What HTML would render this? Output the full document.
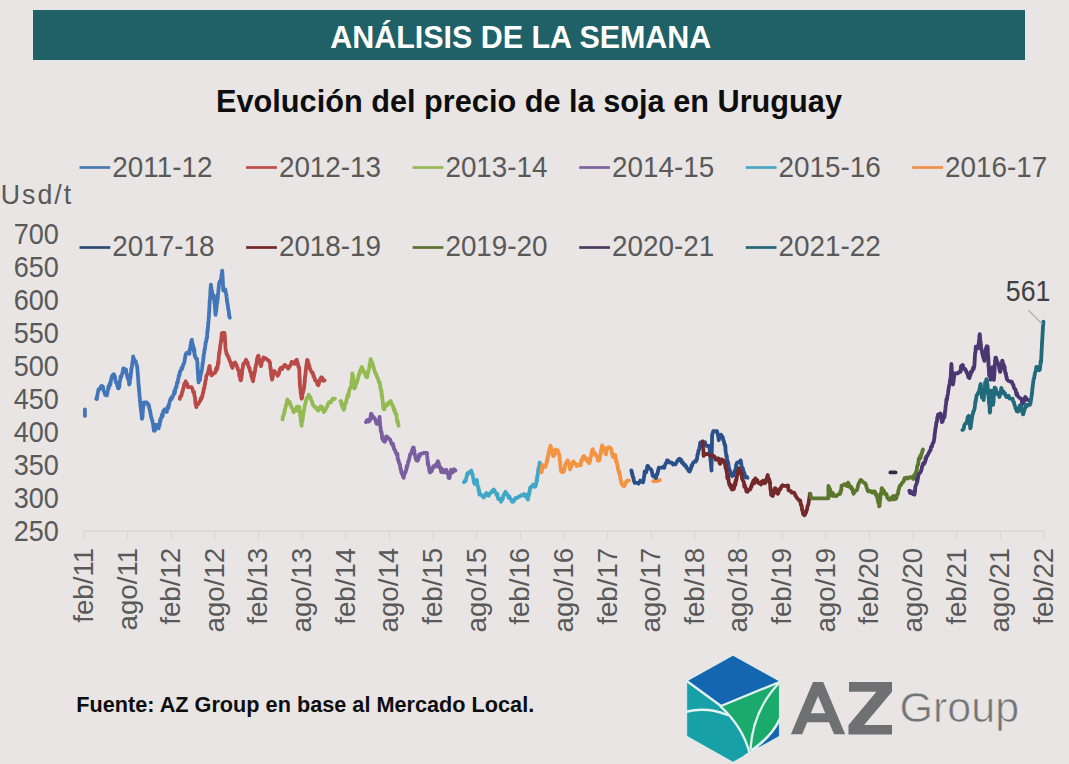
<!DOCTYPE html>
<html><head><meta charset="utf-8"><style>
html,body{margin:0;padding:0;background:#e8e5e4;}
body{width:1069px;height:764px;overflow:hidden;position:relative;font-family:"Liberation Sans",sans-serif;}
svg{position:absolute;left:0;top:0;}
.ax{font-family:"Liberation Sans",sans-serif;font-size:26.7px;fill:#595959;}
</style></head><body>
<svg width="1069" height="764" viewBox="0 0 1069 764">
<rect x="0" y="0" width="1069" height="764" fill="#e8e5e4"/>
<rect x="33" y="10" width="992" height="50" fill="#1f6166"/>
<text transform="translate(520.8,47.5) scale(1,1.11)" text-anchor="middle" font-family="Liberation Sans" font-weight="bold" font-size="28.5" fill="#ffffff" textLength="381" lengthAdjust="spacingAndGlyphs">ANÁLISIS DE LA SEMANA</text>
<text transform="translate(216,111.9) scale(1,1.12)" font-family="Liberation Sans" font-weight="bold" font-size="28.5" fill="#0d0d0d" textLength="626" lengthAdjust="spacingAndGlyphs">Evolución del precio de la soja en Uruguay</text>
<text transform="translate(0.8,203.9) scale(1,1.065)" class="ax" style="letter-spacing:2px">Usd/t</text>
<text transform="translate(58.9,244.0) scale(1,1.083)" text-anchor="end" class="ax" style="font-size:27.1px">700</text><text transform="translate(58.9,277.0) scale(1,1.083)" text-anchor="end" class="ax" style="font-size:27.1px">650</text><text transform="translate(58.9,310.0) scale(1,1.083)" text-anchor="end" class="ax" style="font-size:27.1px">600</text><text transform="translate(58.9,343.0) scale(1,1.083)" text-anchor="end" class="ax" style="font-size:27.1px">550</text><text transform="translate(58.9,376.0) scale(1,1.083)" text-anchor="end" class="ax" style="font-size:27.1px">500</text><text transform="translate(58.9,409.0) scale(1,1.083)" text-anchor="end" class="ax" style="font-size:27.1px">450</text><text transform="translate(58.9,442.0) scale(1,1.083)" text-anchor="end" class="ax" style="font-size:27.1px">400</text><text transform="translate(58.9,475.0) scale(1,1.083)" text-anchor="end" class="ax" style="font-size:27.1px">350</text><text transform="translate(58.9,508.0) scale(1,1.083)" text-anchor="end" class="ax" style="font-size:27.1px">300</text><text transform="translate(58.9,541.0) scale(1,1.083)" text-anchor="end" class="ax" style="font-size:27.1px">250</text>
<line x1="79.5" y1="167.5" x2="110.3" y2="167.5" stroke="#4a7ab2" stroke-width="2.7"/><text transform="translate(112.3,177.0) scale(1,1.064)" class="ax" style="font-size:27.85px">2011-12</text><line x1="246.1" y1="167.5" x2="276.9" y2="167.5" stroke="#bd4d4a" stroke-width="2.7"/><text transform="translate(278.9,177.0) scale(1,1.064)" class="ax" style="font-size:27.85px">2012-13</text><line x1="412.6" y1="167.5" x2="443.4" y2="167.5" stroke="#97b956" stroke-width="2.7"/><text transform="translate(445.4,177.0) scale(1,1.064)" class="ax" style="font-size:27.85px">2013-14</text><line x1="579.2" y1="167.5" x2="610.0" y2="167.5" stroke="#7b619f" stroke-width="2.7"/><text transform="translate(612.0,177.0) scale(1,1.064)" class="ax" style="font-size:27.85px">2014-15</text><line x1="745.7" y1="167.5" x2="776.5" y2="167.5" stroke="#48a8c2" stroke-width="2.7"/><text transform="translate(778.5,177.0) scale(1,1.064)" class="ax" style="font-size:27.85px">2015-16</text><line x1="912.2" y1="167.5" x2="943.0" y2="167.5" stroke="#ef9048" stroke-width="2.7"/><text transform="translate(945.0,177.0) scale(1,1.064)" class="ax" style="font-size:27.85px">2016-17</text><line x1="79.5" y1="247.5" x2="110.3" y2="247.5" stroke="#2c4b73" stroke-width="2.7"/><text transform="translate(112.3,255.8) scale(1,1.064)" class="ax" style="font-size:27.85px">2017-18</text><line x1="246.1" y1="247.5" x2="276.9" y2="247.5" stroke="#712a29" stroke-width="2.7"/><text transform="translate(278.9,255.8) scale(1,1.064)" class="ax" style="font-size:27.85px">2018-19</text><line x1="412.6" y1="247.5" x2="443.4" y2="247.5" stroke="#5b712f" stroke-width="2.7"/><text transform="translate(445.4,255.8) scale(1,1.064)" class="ax" style="font-size:27.85px">2019-20</text><line x1="579.2" y1="247.5" x2="610.0" y2="247.5" stroke="#4a3a5e" stroke-width="2.7"/><text transform="translate(612.0,255.8) scale(1,1.064)" class="ax" style="font-size:27.85px">2020-21</text><line x1="745.7" y1="247.5" x2="776.5" y2="247.5" stroke="#256677" stroke-width="2.7"/><text transform="translate(778.5,255.8) scale(1,1.064)" class="ax" style="font-size:27.85px">2021-22</text>
<line x1="84" y1="531" x2="1044" y2="531" stroke="#d9d9d9" stroke-width="1.3"/><line x1="84.0" y1="531" x2="84.0" y2="539" stroke="#d9d9d9" stroke-width="1.3"/><text x="0" y="0" transform="translate(92.9,547.8) rotate(-90)" text-anchor="end" class="ax" style="font-size:27.7px">feb/11</text><line x1="127.6" y1="531" x2="127.6" y2="539" stroke="#d9d9d9" stroke-width="1.3"/><text x="0" y="0" transform="translate(136.5,547.8) rotate(-90)" text-anchor="end" class="ax" style="font-size:27.7px">ago/11</text><line x1="171.3" y1="531" x2="171.3" y2="539" stroke="#d9d9d9" stroke-width="1.3"/><text x="0" y="0" transform="translate(180.2,547.8) rotate(-90)" text-anchor="end" class="ax" style="font-size:27.7px">feb/12</text><line x1="214.9" y1="531" x2="214.9" y2="539" stroke="#d9d9d9" stroke-width="1.3"/><text x="0" y="0" transform="translate(223.8,547.8) rotate(-90)" text-anchor="end" class="ax" style="font-size:27.7px">ago/12</text><line x1="258.5" y1="531" x2="258.5" y2="539" stroke="#d9d9d9" stroke-width="1.3"/><text x="0" y="0" transform="translate(267.4,547.8) rotate(-90)" text-anchor="end" class="ax" style="font-size:27.7px">feb/13</text><line x1="302.2" y1="531" x2="302.2" y2="539" stroke="#d9d9d9" stroke-width="1.3"/><text x="0" y="0" transform="translate(311.1,547.8) rotate(-90)" text-anchor="end" class="ax" style="font-size:27.7px">ago/13</text><line x1="345.8" y1="531" x2="345.8" y2="539" stroke="#d9d9d9" stroke-width="1.3"/><text x="0" y="0" transform="translate(354.7,547.8) rotate(-90)" text-anchor="end" class="ax" style="font-size:27.7px">feb/14</text><line x1="389.5" y1="531" x2="389.5" y2="539" stroke="#d9d9d9" stroke-width="1.3"/><text x="0" y="0" transform="translate(398.4,547.8) rotate(-90)" text-anchor="end" class="ax" style="font-size:27.7px">ago/14</text><line x1="433.1" y1="531" x2="433.1" y2="539" stroke="#d9d9d9" stroke-width="1.3"/><text x="0" y="0" transform="translate(442.0,547.8) rotate(-90)" text-anchor="end" class="ax" style="font-size:27.7px">feb/15</text><line x1="476.7" y1="531" x2="476.7" y2="539" stroke="#d9d9d9" stroke-width="1.3"/><text x="0" y="0" transform="translate(485.6,547.8) rotate(-90)" text-anchor="end" class="ax" style="font-size:27.7px">ago/15</text><line x1="520.4" y1="531" x2="520.4" y2="539" stroke="#d9d9d9" stroke-width="1.3"/><text x="0" y="0" transform="translate(529.3,547.8) rotate(-90)" text-anchor="end" class="ax" style="font-size:27.7px">feb/16</text><line x1="564.0" y1="531" x2="564.0" y2="539" stroke="#d9d9d9" stroke-width="1.3"/><text x="0" y="0" transform="translate(572.9,547.8) rotate(-90)" text-anchor="end" class="ax" style="font-size:27.7px">ago/16</text><line x1="607.6" y1="531" x2="607.6" y2="539" stroke="#d9d9d9" stroke-width="1.3"/><text x="0" y="0" transform="translate(616.5,547.8) rotate(-90)" text-anchor="end" class="ax" style="font-size:27.7px">feb/17</text><line x1="651.3" y1="531" x2="651.3" y2="539" stroke="#d9d9d9" stroke-width="1.3"/><text x="0" y="0" transform="translate(660.2,547.8) rotate(-90)" text-anchor="end" class="ax" style="font-size:27.7px">ago/17</text><line x1="694.9" y1="531" x2="694.9" y2="539" stroke="#d9d9d9" stroke-width="1.3"/><text x="0" y="0" transform="translate(703.8,547.8) rotate(-90)" text-anchor="end" class="ax" style="font-size:27.7px">feb/18</text><line x1="738.5" y1="531" x2="738.5" y2="539" stroke="#d9d9d9" stroke-width="1.3"/><text x="0" y="0" transform="translate(747.4,547.8) rotate(-90)" text-anchor="end" class="ax" style="font-size:27.7px">ago/18</text><line x1="782.2" y1="531" x2="782.2" y2="539" stroke="#d9d9d9" stroke-width="1.3"/><text x="0" y="0" transform="translate(791.1,547.8) rotate(-90)" text-anchor="end" class="ax" style="font-size:27.7px">feb/19</text><line x1="825.8" y1="531" x2="825.8" y2="539" stroke="#d9d9d9" stroke-width="1.3"/><text x="0" y="0" transform="translate(834.7,547.8) rotate(-90)" text-anchor="end" class="ax" style="font-size:27.7px">ago/19</text><line x1="869.5" y1="531" x2="869.5" y2="539" stroke="#d9d9d9" stroke-width="1.3"/><text x="0" y="0" transform="translate(878.4,547.8) rotate(-90)" text-anchor="end" class="ax" style="font-size:27.7px">feb/20</text><line x1="913.1" y1="531" x2="913.1" y2="539" stroke="#d9d9d9" stroke-width="1.3"/><text x="0" y="0" transform="translate(922.0,547.8) rotate(-90)" text-anchor="end" class="ax" style="font-size:27.7px">ago/20</text><line x1="956.7" y1="531" x2="956.7" y2="539" stroke="#d9d9d9" stroke-width="1.3"/><text x="0" y="0" transform="translate(965.6,547.8) rotate(-90)" text-anchor="end" class="ax" style="font-size:27.7px">feb/21</text><line x1="1000.4" y1="531" x2="1000.4" y2="539" stroke="#d9d9d9" stroke-width="1.3"/><text x="0" y="0" transform="translate(1009.3,547.8) rotate(-90)" text-anchor="end" class="ax" style="font-size:27.7px">ago/21</text><line x1="1044.0" y1="531" x2="1044.0" y2="539" stroke="#d9d9d9" stroke-width="1.3"/><text x="0" y="0" transform="translate(1052.9,547.8) rotate(-90)" text-anchor="end" class="ax" style="font-size:27.7px">feb/22</text>
<g fill="none" stroke-width="3.8" stroke-linejoin="round" stroke-linecap="round">
<polyline points="84.9,409.5 84.9,415.9" stroke="#4376b9"/>
<polyline points="96.2,398.9 96.5,398.0 96.9,399.0 97.2,396.1 97.5,394.8 97.8,392.9 98.2,391.3 98.5,389.5 99.4,389.4 100.2,387.7 101.1,386.1 102.0,386.0 102.5,386.2 103.0,387.1 103.4,389.9 103.9,391.5 104.4,391.9 105.2,395.0 106.0,394.9 106.8,395.4 107.1,394.4 107.4,393.3 107.7,391.1 108.0,389.5 108.4,386.2 108.8,388.2 109.2,385.2 109.6,384.6 109.9,382.8 110.3,385.0 110.7,381.7 111.1,379.6 111.5,377.7 112.3,375.4 113.0,376.5 113.8,374.2 114.2,374.7 114.6,378.4 115.0,376.7 115.4,379.7 115.8,382.2 116.2,382.4 116.7,382.7 117.2,385.0 117.6,386.3 118.1,388.3 118.6,388.3 118.9,386.6 119.1,386.6 119.4,386.9 119.6,381.5 119.9,380.9 120.1,381.1 120.4,378.5 120.6,376.4 120.9,376.5 121.3,376.9 121.7,375.0 122.1,373.8 122.5,372.4 122.9,370.6 123.3,368.3 124.4,368.7 125.6,370.7 126.0,369.5 126.4,374.2 126.8,373.7 127.2,376.4 127.6,378.1 128.0,378.9 128.4,378.8 128.8,381.0 129.2,384.6 129.6,383.6 129.8,383.2 129.9,379.1 130.1,379.3 130.3,378.2 130.5,377.5 130.6,376.3 130.8,373.9 131.0,372.4 131.2,372.2 131.3,368.2 131.5,368.3 131.7,368.4 132.0,366.2 132.2,363.9 132.4,362.5 132.7,362.1 132.9,358.8 133.2,356.5 133.4,357.7 134.2,359.4 134.9,361.8 135.7,361.2 136.0,362.6 136.4,364.2 136.7,365.6 137.1,365.9 137.4,368.3 137.5,370.2 137.6,372.1 137.7,372.6 137.8,374.9 137.9,374.1 138.0,376.9 138.1,377.2 138.2,378.8 138.3,381.1 138.4,382.3 138.5,384.5 138.6,384.8 138.7,387.0 138.9,386.4 139.0,390.6 139.1,388.7 139.2,391.8 139.4,393.7 139.5,394.6 139.6,396.7 139.7,397.6 139.9,397.8 140.0,401.3 140.1,401.7 140.2,402.2 140.4,404.7 140.5,406.0 140.7,407.4 140.9,409.3 141.0,409.7 141.2,411.9 141.4,413.0 141.6,416.4 141.7,415.6 141.9,418.9 142.1,418.9 142.2,417.4 142.4,417.4 142.5,417.4 142.7,413.0 142.8,412.2 142.9,409.7 143.1,408.5 143.2,407.3 143.4,406.7 143.5,406.3 143.7,404.9 143.8,402.5 146.8,402.5 147.4,403.1 148.0,405.0 148.6,404.4 149.2,407.2 149.5,409.3 149.8,409.8 150.0,410.3 150.3,413.0 150.6,413.5 151.0,416.4 151.3,417.2 151.7,419.1 152.0,419.3 152.4,421.3 152.7,422.5 152.9,423.6 153.1,423.5 153.3,426.4 153.5,427.8 153.7,428.6 153.9,430.7 154.4,430.4 154.8,430.7 155.3,428.8 155.7,426.0 156.2,424.8 157.0,424.7 157.8,427.0 158.6,428.4 158.9,426.4 159.2,425.9 159.5,425.8 159.8,423.0 160.0,420.2 160.3,422.0 160.6,419.2 160.9,417.8 161.5,417.9 162.1,414.1 162.7,416.4 163.3,410.9 163.9,411.0 164.5,409.5 165.7,411.6 166.8,411.9 167.2,407.6 167.6,408.2 168.0,406.0 168.4,408.3 168.8,405.8 169.2,403.6 169.8,401.4 170.4,399.3 171.0,398.1 171.6,399.1 172.1,396.8 172.7,397.0 173.3,394.8 173.9,394.2 174.3,391.0 174.7,393.6 175.1,390.8 175.5,388.2 175.8,387.3 176.2,387.8 176.6,385.9 177.0,382.3 177.4,382.4 177.7,382.7 178.1,379.1 178.4,379.1 178.8,375.8 179.1,375.1 179.5,375.5 179.8,372.0 180.2,372.1 180.5,370.7 181.1,370.0 181.6,367.6 182.2,368.8 182.7,366.7 183.2,364.6 183.8,363.6 184.1,363.4 184.3,362.4 184.6,361.0 184.9,358.1 185.2,357.8 185.4,356.0 185.7,354.2 186.9,352.6 188.0,353.0 189.2,353.0 189.5,353.8 189.7,349.2 190.0,349.2 190.3,349.1 190.5,345.4 190.8,344.3 191.1,342.1 191.3,342.0 191.6,340.0 191.9,339.8 192.1,342.9 192.4,342.7 192.7,344.8 193.0,346.5 193.2,345.5 193.5,347.5 193.8,351.0 194.0,352.0 194.3,349.2 194.6,355.6 194.8,354.3 195.1,356.5 196.1,358.7 197.0,358.9 197.1,361.4 197.2,361.5 197.3,362.6 197.4,362.3 197.5,366.3 197.6,369.3 197.7,367.2 197.8,371.2 197.8,372.2 197.9,373.8 198.0,372.9 198.1,375.4 198.2,377.2 198.3,380.2 198.4,378.6 198.5,380.4 198.6,382.4 199.2,380.4 199.8,380.1 200.1,379.7 200.3,375.7 200.6,375.9 200.8,373.4 201.1,373.2 201.3,373.1 201.6,370.3 201.8,370.4 202.1,368.3 202.3,366.4 202.4,365.5 202.6,364.1 202.8,361.9 203.0,362.0 203.1,361.0 203.3,358.0 203.5,358.3 203.6,356.3 203.8,354.4 204.0,353.7 204.2,353.1 204.3,351.7 204.5,349.5 204.8,349.8 205.0,347.2 205.3,345.8 205.6,342.6 205.8,342.3 206.1,342.3 206.4,339.1 206.6,338.0 206.9,337.7 207.0,338.3 207.2,334.7 207.3,332.1 207.5,329.5 207.6,329.5 207.7,331.6 207.9,327.5 208.0,326.8 208.1,325.4 208.3,322.7 208.4,322.2 208.6,320.4 208.7,318.9 208.8,317.1 208.9,317.2 209.0,313.7 209.1,312.3 209.2,311.0 209.2,311.7 209.3,308.4 209.4,309.5 209.5,304.6 209.6,303.5 209.7,300.3 209.8,300.8 209.9,300.4 210.0,299.7 210.1,296.4 210.2,295.5 210.3,296.2 210.3,292.7 210.4,291.9 210.5,291.1 210.6,287.9 210.7,288.9 210.8,285.9 210.9,284.7 211.1,287.0 211.3,287.2 211.5,289.3 211.7,291.8 211.9,292.1 212.1,291.3 212.3,294.5 212.5,295.8 212.7,297.7 213.3,296.3 213.9,295.3 214.0,296.8 214.1,296.2 214.3,301.3 214.4,299.7 214.5,303.4 214.6,303.0 214.8,304.3 214.9,305.9 215.0,307.0 215.1,309.4 215.2,311.5 215.4,313.5 215.5,314.9 215.6,314.2 215.8,311.4 216.0,312.1 216.2,310.5 216.4,308.4 216.6,307.4 216.7,305.7 216.9,303.0 217.1,301.9 217.3,302.5 217.5,300.0 217.6,298.5 217.8,298.8 217.9,295.4 218.0,293.8 218.2,293.2 218.3,291.8 218.4,291.4 218.6,288.4 218.7,288.5 218.8,286.6 219.0,283.9 219.1,283.5 219.6,282.1 220.1,280.9 220.5,281.1 221.0,278.8 221.2,278.8 221.4,276.8 221.6,274.1 221.8,274.1 222.0,272.1 222.2,270.6 222.3,271.4 222.4,274.3 222.4,274.0 222.5,276.0 222.6,276.6 222.7,277.6 222.8,281.0 222.8,280.3 222.9,282.7 223.0,284.5 223.1,286.8 223.1,287.0 223.2,289.9 223.3,290.6 224.2,289.1 225.2,289.4 225.4,289.8 225.6,291.1 225.8,292.8 226.1,293.9 226.3,294.4 226.5,296.5 226.7,297.7 226.9,300.0 227.1,302.6 227.3,301.6 227.6,304.6 227.8,304.7 228.0,307.1 228.2,309.3 228.5,309.6 228.7,310.4 228.9,313.6 229.2,315.4 229.4,316.7 229.7,317.4 229.9,317.7" stroke="#4376b9"/>
<polyline points="179.8,398.9 180.3,396.5 180.7,396.3 181.2,396.1 181.6,395.0 182.1,391.9 182.5,391.9 183.0,389.3 183.4,388.3 183.9,386.3 184.3,383.8 184.8,383.4 185.2,383.7 185.7,381.3 186.2,382.8 186.6,383.3 187.1,383.7 187.5,385.9 188.0,387.2 191.5,387.2 192.1,388.0 192.7,390.1 193.3,392.1 193.9,393.0 194.1,391.9 194.4,395.7 194.6,395.7 194.9,397.7 195.1,398.7 195.3,402.7 195.6,403.7 195.8,404.9 196.1,405.0 196.3,407.2 197.0,404.4 197.7,404.4 198.4,403.9 199.1,402.4 199.8,401.3 200.3,400.7 200.8,398.2 201.3,399.2 201.8,396.6 202.3,396.8 202.8,393.5 203.3,391.9 203.6,390.3 203.8,388.4 204.1,388.8 204.4,387.8 204.6,385.5 204.9,384.5 205.2,382.4 205.4,381.0 205.7,380.1 206.0,378.5 206.4,375.4 206.8,375.1 207.1,374.9 207.4,373.7 207.8,373.5 208.1,371.7 208.5,370.2 208.8,368.5 209.2,367.1 209.6,366.0 210.0,369.9 210.4,370.3 210.8,373.2 211.2,373.7 211.6,375.4 212.8,374.2 213.9,373.2 215.1,373.0 215.6,371.5 216.1,368.5 216.5,367.7 217.0,369.6 217.5,367.1 217.7,366.2 217.9,363.9 218.0,362.7 218.2,361.3 218.4,363.9 218.6,359.5 218.7,357.6 218.9,355.5 219.1,352.3 219.3,353.7 219.4,353.7 219.6,351.9 219.8,349.5 220.0,348.4 220.2,346.1 220.4,344.1 220.6,344.1 220.8,342.2 221.0,340.0 221.2,341.7 221.4,337.5 221.6,336.5 221.8,333.1 222.0,336.2 222.2,333.0 224.5,333.0 224.6,334.2 224.7,335.7 224.8,337.4 224.9,337.6 225.0,339.2 225.1,341.6 225.2,341.7 225.3,344.3 225.4,346.7 225.5,347.6 225.6,349.7 225.7,349.5 226.2,352.1 226.6,354.2 227.1,354.0 227.5,355.6 228.0,356.5 228.5,356.7 229.0,359.0 229.5,359.8 230.1,361.8 230.6,362.1 231.1,365.0 231.6,366.0 232.5,367.9 233.3,363.3 234.2,363.9 235.1,362.4 235.7,364.5 236.3,364.4 236.8,366.2 237.4,367.3 238.0,369.8 238.6,370.7 238.9,371.3 239.3,376.2 239.6,375.7 240.0,377.3 240.3,379.8 240.7,380.3 241.0,380.1 241.2,378.6 241.4,377.7 241.6,376.0 241.8,374.9 242.0,374.3 242.2,369.7 242.4,368.6 242.6,368.7 242.8,368.2 243.0,365.8 243.2,364.7 243.4,363.6 244.3,363.5 245.1,361.8 246.0,359.8 246.5,361.0 247.0,362.1 247.6,362.1 248.1,365.6 248.6,366.5 249.1,367.7 249.5,368.0 249.9,370.9 250.3,371.3 250.7,372.7 251.1,372.6 251.4,376.7 251.8,376.3 252.2,378.8 252.6,380.1 253.0,381.2 253.3,379.1 253.5,378.3 253.8,376.7 254.1,375.3 254.3,374.4 254.6,372.1 254.9,372.1 255.1,370.1 255.4,367.3 255.7,367.7 255.9,365.4 256.2,364.5 256.6,363.5 257.0,359.0 257.4,360.4 257.8,356.1 258.2,356.7 258.6,355.8 258.9,360.5 259.2,359.0 259.5,360.7 259.8,360.1 260.1,360.9 260.4,363.3 260.7,365.2 261.0,366.1 261.4,364.4 261.8,362.3 262.2,360.7 262.6,359.8 263.0,360.5 263.4,357.4 264.7,358.1 266.1,358.5 267.4,359.8 268.2,360.5 269.0,360.7 269.8,362.9 270.0,362.7 270.2,365.8 270.4,368.5 270.6,369.0 270.8,368.3 271.0,372.9 271.1,372.9 271.3,376.1 271.5,375.2 271.7,375.3 271.9,378.4 272.1,379.6 272.5,377.9 272.9,375.5 273.3,374.4 273.7,373.3 274.1,371.3 274.5,370.9 275.3,372.7 276.1,373.6 276.9,374.0 277.7,375.7 278.2,373.9 278.8,374.0 279.3,372.1 279.8,369.0 280.4,369.3 280.9,367.7 282.1,369.0 283.3,366.8 284.5,364.9 285.7,365.3 287.0,367.2 288.3,368.6 289.6,366.1 290.6,365.4 291.6,362.0 292.6,362.1 293.6,362.9 294.7,363.9 295.7,360.7 296.8,359.8 297.2,361.9 297.6,363.1 298.0,364.0 298.4,367.0 298.8,366.7 299.2,367.7 299.3,369.8 299.3,370.9 299.4,372.1 299.4,375.9 299.5,373.4 299.5,374.6 299.6,378.5 299.7,377.3 299.7,380.2 299.8,380.3 299.8,383.8 299.9,384.1 299.9,386.3 300.0,386.8 300.2,387.4 300.4,389.4 300.5,388.3 300.7,393.1 300.9,393.9 301.1,394.8 301.2,396.2 301.4,397.0 301.6,398.7 301.9,397.4 302.1,398.2 302.4,394.1 302.7,392.9 302.9,392.9 303.2,391.1 303.5,388.8 303.7,390.0 304.0,386.8 304.2,387.3 304.3,383.7 304.5,384.6 304.7,379.6 304.8,381.5 305.0,376.5 305.1,377.3 305.3,375.3 305.5,373.7 305.6,373.3 305.8,370.2 306.0,369.0 306.1,367.1 306.3,368.6 306.4,364.9 306.6,364.5 306.8,362.4 306.9,362.4 307.1,359.8 307.6,360.1 308.0,361.6 308.5,363.2 308.9,365.5 309.4,365.8 309.8,368.5 310.3,369.3 311.1,371.0 311.9,372.6 312.7,372.5 313.1,374.5 313.5,376.7 313.9,376.1 314.3,377.3 314.7,378.4 315.1,380.4 315.9,380.9 316.7,381.4 317.5,384.5 318.3,385.2 318.8,384.0 319.3,380.3 319.9,381.2 320.4,379.2 320.9,377.7 321.4,377.3 322.5,378.1 323.5,380.8 324.6,380.4" stroke="#b94a48"/>
<polyline points="282.5,419.4 282.8,417.1 283.2,416.4 283.5,415.0 283.9,414.0 284.2,413.9 284.6,410.0 284.9,410.6 285.2,408.8 285.5,407.3 285.8,405.5 286.1,404.9 286.4,403.7 286.7,405.0 287.0,401.2 287.3,399.5 288.1,400.7 288.9,402.9 289.6,401.9 290.4,404.3 290.9,405.0 291.5,407.5 292.0,407.7 292.5,408.5 293.1,410.2 293.6,412.2 294.2,409.6 294.9,411.3 295.5,410.3 296.2,410.7 296.8,406.7 299.2,406.7 299.4,407.7 299.5,409.2 299.7,410.6 299.9,412.7 300.1,413.5 300.2,415.8 300.4,415.9 300.6,416.0 300.7,420.7 300.9,419.8 301.1,423.0 301.3,422.7 301.4,424.6 301.6,425.8 301.8,422.6 302.0,422.0 302.2,422.1 302.4,420.9 302.6,418.6 302.9,417.7 303.1,414.1 303.3,414.8 303.5,412.6 303.7,410.8 303.9,410.6 304.2,409.6 304.5,407.3 304.8,405.5 305.1,404.6 305.4,403.2 305.7,402.0 306.0,401.0 306.3,399.5 306.9,397.8 307.5,398.1 308.1,397.6 308.7,394.7 309.3,397.0 309.9,396.7 310.5,397.6 311.1,399.5 311.6,401.1 312.2,401.7 312.7,404.6 313.2,404.5 313.8,406.0 314.3,406.7 315.3,407.0 316.3,408.8 317.3,408.4 318.3,410.6 319.1,408.0 319.9,408.9 320.6,406.4 321.4,406.7 322.2,407.2 323.0,410.0 323.8,412.0 324.6,411.4 325.1,410.3 325.7,408.6 326.2,408.7 326.7,407.7 327.3,406.1 327.8,404.3 328.8,402.4 329.8,401.8 330.8,402.4 331.8,400.3 332.9,398.6 333.9,399.3 335.0,398.7" stroke="#94ba52"/>
<polyline points="340.5,401.1 341.0,401.0 341.4,404.0 341.9,406.0 342.3,405.6 342.8,405.9 343.2,408.6 343.7,409.9 344.1,409.1 344.4,408.4 344.8,404.6 345.1,403.1 345.5,404.0 345.8,402.4 346.2,402.3 346.5,400.3 346.9,397.9 347.4,396.4 347.9,394.8 348.4,396.6 348.9,392.0 349.4,390.1 349.9,388.3 350.4,388.3 350.9,386.8 351.1,385.5 351.3,383.6 351.4,382.5 351.6,381.5 351.8,380.5 352.0,379.5 352.1,377.2 352.3,373.5 352.5,374.1 352.7,376.2 353.0,375.2 353.2,378.0 353.4,377.9 353.6,380.9 353.9,381.3 354.1,383.8 354.3,388.5 354.6,386.2 354.8,387.6 355.3,387.2 355.8,383.6 356.2,383.4 356.7,383.2 357.2,381.2 357.6,379.6 358.0,378.7 358.4,377.0 358.8,374.3 359.2,374.6 359.6,372.5 360.2,370.2 360.8,371.8 361.4,367.7 362.0,366.9 362.6,369.1 363.2,369.7 363.8,372.1 364.4,372.5 365.0,373.0 365.6,376.0 366.2,376.0 366.8,377.3 367.1,377.3 367.5,375.2 367.8,373.3 368.2,371.0 368.5,371.3 368.9,369.6 369.2,367.7 369.4,368.1 369.7,364.4 369.9,364.0 370.2,362.5 370.4,360.8 370.7,359.0 371.2,360.6 371.7,362.0 372.1,362.6 372.6,363.6 373.1,366.1 373.6,367.0 374.2,369.4 374.7,371.8 375.2,372.5 375.8,373.9 376.3,374.1 376.8,376.3 377.4,377.5 377.9,378.3 378.4,380.2 379.0,382.6 379.5,382.0 379.8,383.0 380.0,383.9 380.3,388.1 380.6,387.6 380.8,389.7 381.1,390.9 381.4,390.0 381.6,395.3 381.9,393.9 382.0,397.2 382.2,396.9 382.3,398.9 382.5,399.6 382.6,399.8 382.8,402.1 382.9,404.0 383.1,406.2 383.2,407.1 383.4,407.8 383.5,409.1 384.3,409.4 385.1,405.9 385.8,406.4 386.6,404.3 387.7,404.7 388.7,402.4 389.8,401.9 390.6,400.9 391.4,402.9 392.2,405.2 393.0,405.9 393.5,407.8 393.9,410.3 394.4,408.9 394.8,411.3 395.3,413.4 395.7,413.9 396.2,415.4 396.5,414.1 396.8,418.9 397.1,421.8 397.4,421.7 397.7,420.9 398.0,422.7 398.3,424.7 398.6,425.8" stroke="#94ba52"/>
<polyline points="365.9,422.1 367.2,420.1 368.5,421.5 369.8,420.8 370.1,419.1 370.3,417.4 370.6,417.5 370.8,415.1 371.1,413.6 371.8,414.4 372.4,417.8 373.1,416.4 373.7,418.1 374.4,417.9 375.0,418.9 375.7,421.1 376.3,423.5 377.0,424.0 377.5,423.5 378.0,422.4 378.6,421.7 379.1,420.1 379.6,416.8 379.7,418.9 379.8,421.1 379.9,421.8 380.0,421.8 380.1,424.8 380.2,425.3 380.3,426.6 380.6,427.7 380.8,431.5 381.1,431.5 381.3,431.4 381.6,433.2 381.9,434.5 382.1,438.5 382.4,436.9 382.6,439.3 382.9,439.7 383.9,441.4 384.9,441.7 385.2,441.0 385.5,439.8 385.9,437.3 386.2,436.5 387.3,436.9 388.4,438.1 389.5,439.1 390.3,439.9 391.1,442.4 391.9,444.3 392.7,443.7 393.0,444.1 393.4,447.0 393.7,446.6 394.0,448.9 394.6,449.5 395.3,451.3 396.0,453.0 396.6,454.1 397.0,455.0 397.4,453.9 397.8,459.6 398.1,459.1 398.5,460.0 398.9,462.8 399.3,463.3 399.6,464.0 399.9,464.4 400.3,467.8 400.6,469.1 400.9,469.0 401.2,472.2 401.6,473.0 401.9,473.8 402.5,474.2 403.2,477.0 403.7,477.8 404.2,475.0 404.8,472.3 405.3,472.8 405.8,471.1 406.1,470.0 406.4,469.6 406.8,465.8 407.1,467.1 407.4,465.7 407.8,464.1 408.1,462.7 408.4,460.7 408.8,460.9 409.2,458.9 409.6,456.9 410.0,454.5 410.4,454.1 410.9,454.1 411.4,452.7 412.0,450.6 412.5,449.1 413.0,447.6 413.3,449.8 413.7,447.5 414.0,451.9 414.3,450.1 414.7,454.4 415.0,455.4 415.6,458.0 416.3,460.2 417.0,458.9 417.6,460.7 418.1,459.9 418.6,458.0 419.2,454.3 419.7,456.3 420.2,454.1 421.5,453.7 422.8,453.4 424.1,452.8 426.8,452.8 427.0,453.1 427.1,455.4 427.3,456.9 427.5,459.5 427.6,459.7 427.8,464.6 427.9,461.6 428.1,463.3 428.4,464.4 428.6,465.9 428.9,466.4 429.2,470.3 429.5,470.6 429.7,469.8 430.0,472.5 430.9,471.3 431.7,471.2 432.6,468.5 433.5,466.1 434.4,467.0 435.3,465.9 435.9,464.5 436.6,466.3 437.2,463.0 437.9,461.3 438.4,462.3 438.9,463.6 439.5,467.8 440.0,466.6 440.5,468.5 441.3,472.1 442.1,468.8 443.0,471.3 443.8,472.5 444.7,471.4 445.5,470.0 446.4,469.8 446.8,470.9 447.3,473.3 447.7,473.1 448.1,473.5 448.6,477.9 449.0,477.7 449.5,478.1 450.0,474.3 450.6,474.1 451.1,469.6 451.6,471.1 452.9,472.1 454.2,469.3 455.5,470.5" stroke="#7a5e9f"/>
<polyline points="464.0,482.2 464.7,480.8 465.5,481.3 466.2,478.3 466.8,476.0 467.4,473.5 467.9,474.4 468.5,472.7 469.4,472.7 470.4,471.6 471.3,470.4 471.6,472.4 472.0,473.0 472.3,473.8 472.7,475.0 473.0,477.1 473.3,478.3 473.6,479.5 474.0,482.3 474.3,483.3 474.6,483.9 475.4,481.3 476.1,482.2 476.9,480.0 477.1,481.5 477.3,484.3 477.6,486.2 477.8,486.6 478.0,487.3 478.3,486.8 478.7,490.8 479.0,489.7 479.4,494.5 479.7,494.0 480.6,494.1 481.6,495.4 482.5,496.2 483.9,497.5 485.3,494.5 486.4,493.1 487.6,495.5 488.7,495.7 489.6,493.5 490.6,493.0 491.5,492.3 492.2,490.6 493.0,491.3 493.7,489.5 494.5,490.4 495.2,492.3 496.0,492.9 496.7,495.1 497.4,493.9 498.1,498.8 498.8,498.5 499.5,499.4 500.3,499.0 501.0,501.8 501.6,499.8 502.1,500.1 502.7,498.8 503.3,496.2 503.9,494.4 504.4,494.2 504.9,493.2 505.5,491.7 506.3,494.1 507.0,493.9 507.8,495.1 508.5,497.5 509.3,496.5 510.0,498.5 510.9,498.9 511.9,501.6 512.8,501.8 513.7,501.4 514.7,499.3 515.6,497.9 517.0,498.2 518.4,496.8 519.8,496.3 521.2,495.1 522.6,495.5 524.0,494.0 525.1,496.0 526.3,495.1 526.9,497.3 527.4,499.1 528.0,499.6 528.2,498.0 528.5,496.5 528.7,493.2 529.0,495.0 529.2,493.3 529.5,492.6 529.7,490.6 530.2,487.5 530.8,487.9 531.4,486.7 531.9,486.1 533.3,484.5 534.7,486.7 535.3,486.5 535.8,485.6 536.4,482.8 536.6,480.2 536.8,480.8 537.0,480.9 537.1,476.3 537.3,477.5 537.5,474.9 537.7,475.5 537.9,474.4 538.2,469.5 538.4,468.5 538.6,468.2 538.9,467.2 539.2,466.9 539.5,462.7 539.8,462.6" stroke="#40a8c6"/>
<polyline points="541.4,472.1 541.6,472.2 541.9,470.7 542.1,466.9 542.4,465.0 542.6,465.9 543.7,466.3 544.8,467.0 545.4,466.7 545.9,464.6 546.5,463.7 546.8,460.7 547.0,460.4 547.3,461.1 547.6,456.6 547.9,457.9 548.2,455.9 548.4,454.4 548.7,452.5 549.0,452.0 549.4,449.2 549.7,448.3 550.1,449.0 550.4,445.7 550.7,446.6 551.1,448.0 551.4,448.2 551.8,450.6 552.1,452.5 552.7,454.4 553.2,456.1 553.8,455.8 554.1,455.3 554.5,454.0 554.8,452.7 555.2,451.2 555.5,449.6 556.6,451.0 557.7,450.2 558.0,451.4 558.4,454.1 558.7,454.1 559.1,453.8 559.4,456.9 559.6,457.0 559.7,459.6 559.9,460.8 560.1,461.4 560.2,463.4 560.4,465.9 560.6,467.6 560.8,469.5 560.9,469.1 561.1,471.5 562.2,472.2 563.3,472.1 563.7,471.8 564.1,469.7 564.5,469.8 564.8,466.0 565.2,465.1 565.6,463.7 566.3,462.8 567.1,461.0 567.8,460.3 568.1,461.5 568.5,463.1 568.8,464.1 569.1,464.9 569.4,466.2 569.8,467.9 570.1,469.3 570.7,466.3 571.2,466.9 571.8,464.2 572.4,463.8 572.9,461.6 573.5,461.5 574.3,462.7 575.1,463.3 576.0,464.6 576.8,466.0 577.9,464.8 579.1,465.4 580.2,464.9 580.7,465.3 581.1,460.3 581.6,461.5 582.1,459.9 582.5,457.9 583.0,457.0 584.1,456.0 585.3,459.5 586.4,458.2 587.1,459.7 587.8,461.8 588.5,461.6 589.2,463.2 589.5,461.0 589.9,461.6 590.2,459.8 590.6,457.3 590.9,456.0 591.2,455.5 591.6,452.5 591.9,451.1 592.3,450.6 592.6,449.2 593.3,451.4 593.9,452.4 594.6,452.8 595.2,455.1 595.9,454.8 596.6,455.8 597.3,456.5 597.9,460.7 598.6,458.8 599.3,460.4 599.6,459.7 599.8,458.3 600.1,456.4 600.3,455.2 600.6,454.3 600.8,452.8 601.1,450.2 601.3,449.4 601.6,449.5 601.8,447.5 602.1,445.3 602.7,446.2 603.2,448.2 603.8,448.4 604.4,449.5 604.9,451.7 605.5,453.7 606.1,454.2 606.6,450.6 607.2,447.9 607.7,448.6 608.3,447.5 609.7,447.3 611.1,448.6 611.4,450.8 611.7,452.7 612.0,452.5 612.2,454.3 612.5,454.7 612.8,457.0 613.9,457.2 615.0,454.8 615.3,455.5 615.7,457.7 616.0,461.7 616.3,459.6 616.6,462.2 617.0,463.4 617.3,464.9 617.6,466.7 617.9,468.0 618.2,470.4 618.6,470.6 618.9,472.0 619.2,471.3 619.5,473.9 619.8,475.8 620.1,475.4 620.4,479.5 620.8,479.6 621.1,482.2 621.4,482.0 621.7,484.0 622.9,485.4 624.0,486.2 624.5,485.2 625.1,484.6 625.7,482.7 626.2,481.7 627.6,480.5 629.0,480.6" stroke="#f59440"/>
<polyline points="653.2,481.2 656.5,481.2 657.6,481.0 658.8,480.4 659.9,480.1" stroke="#f59440"/>
<polyline points="631.3,470.5 631.6,471.0 632.0,474.2 632.3,473.5 632.7,476.5 633.0,477.3 633.4,477.3 633.9,481.0 634.3,481.4 634.7,482.9 637.5,482.9 638.4,483.7 639.4,482.3 640.3,480.6 641.7,481.5 643.1,482.3 643.3,480.6 643.6,480.1 643.8,478.2 644.1,475.9 644.3,476.2 644.6,471.5 644.8,472.8 645.5,471.4 646.1,472.4 646.8,469.3 647.4,465.8 648.1,466.0 649.0,468.3 650.0,468.5 650.9,469.4 651.4,470.1 651.8,471.4 652.3,473.6 652.7,475.7 653.2,476.1 654.3,476.6 655.4,477.3 656.0,478.1 656.5,474.4 657.1,474.9 657.7,472.8 658.3,469.6 658.8,467.7 659.4,468.3 660.8,467.7 662.2,467.2 663.1,466.8 664.1,467.8 665.0,465.0 665.7,463.5 666.4,463.0 667.1,460.3 667.8,460.4 668.7,461.2 669.7,462.6 670.6,462.7 671.9,462.7 673.2,464.6 674.5,463.8 675.5,464.3 676.5,462.4 677.5,460.7 678.5,459.5 679.5,458.7 680.3,460.4 681.1,459.7 681.9,462.8 682.7,462.2 683.5,463.8 684.3,465.3 685.1,464.9 686.0,466.2 686.8,468.3 687.7,468.6 688.7,471.1 689.6,471.6 690.1,470.4 690.6,469.1 691.0,468.8 691.5,465.5 692.0,466.1 692.5,463.8 693.6,462.4 694.7,461.3 695.8,461.5 696.2,459.6 696.6,460.1 697.0,459.4 697.3,455.7 697.7,453.9 698.1,453.7 698.4,450.6 698.6,451.0 698.9,450.0 699.2,448.6 699.5,447.0 699.8,446.8 700.0,444.0 700.3,442.5 701.5,442.4 702.6,441.3 703.4,442.2 704.2,442.5 705.1,442.3 705.9,445.8 709.3,445.8 709.4,447.2 709.5,447.9 709.7,449.4 709.8,450.6 709.9,452.7 710.0,454.2 710.2,453.0 710.3,456.4 710.4,458.6 710.5,459.9 710.6,460.7 710.8,462.5 710.9,461.9 711.0,465.4 711.1,466.1 711.3,467.8 711.4,469.8 711.5,470.5 711.5,469.3 711.5,466.5 711.6,464.2 711.6,464.5 711.6,463.6 711.6,462.5 711.7,461.9 711.7,459.9 711.7,458.4 711.7,454.8 711.8,456.2 711.8,454.1 711.8,454.8 711.8,452.0 711.8,449.0 711.9,448.5 711.9,447.7 711.9,444.6 711.9,442.5 712.0,443.4 712.0,440.9 712.0,439.9 712.0,438.8 712.1,437.1 712.1,436.8 712.1,434.6 712.5,433.8 712.8,432.6 713.2,431.2 717.1,431.2 717.3,433.4 717.6,433.7 717.8,433.7 718.1,436.4 718.3,436.2 718.6,439.2 718.8,440.2 719.4,437.5 720.0,437.4 720.5,437.4 721.1,434.6 721.6,436.7 722.2,436.5 722.8,437.3 723.3,440.2 723.9,441.2 724.4,444.3 725.0,444.7 725.2,446.8 725.4,446.0 725.5,450.1 725.7,451.0 725.9,453.0 726.1,453.7 726.4,456.6 726.7,455.6 727.0,458.5 727.2,459.5 727.5,461.9 727.8,461.8 728.1,462.0 728.4,464.9 728.7,466.4 729.0,468.6 729.3,468.5 729.7,469.8 730.0,471.5 730.3,472.5 730.6,473.9 731.5,474.6 732.3,476.1 732.8,474.5 733.4,475.5 734.0,472.3 734.5,471.6 734.9,470.6 735.3,470.3 735.7,469.0 736.2,464.7 736.6,464.4 737.0,462.6 737.4,462.7 738.8,462.0 740.2,461.5 740.6,460.4 741.1,462.7 741.5,465.4 742.0,467.3 742.4,468.3 742.9,468.4 743.3,471.3 743.8,473.7 744.2,472.6 744.7,475.0 745.6,477.3 746.6,476.8 747.5,477.8" stroke="#29508a"/>
<polyline points="702.6,442.5 702.7,441.9 702.8,444.9 702.9,447.4 703.0,447.6 703.2,449.4 703.3,448.8 703.4,451.6 703.5,452.8 703.6,455.6 703.7,455.9 704.2,455.0 704.8,453.7 706.2,454.2 707.6,454.0 709.0,454.4 710.4,455.9 713.8,455.9 714.7,457.0 715.7,459.7 716.6,459.3 717.5,458.3 718.5,458.3 719.4,462.7 720.1,463.9 720.9,462.3 721.6,459.3 722.8,460.6 723.9,460.4 724.2,462.1 724.5,462.5 724.8,463.9 725.2,464.2 725.5,467.6 725.8,467.9 726.1,469.4 726.3,468.5 726.6,471.4 726.8,472.6 727.1,473.8 727.3,478.1 727.6,478.4 727.8,478.4 728.3,476.1 728.7,481.7 729.2,483.7 729.6,485.3 730.1,485.1 730.6,487.2 731.2,485.1 731.8,489.5 732.3,489.6 733.0,488.6 733.8,489.1 734.5,486.2 734.8,485.5 735.2,482.0 735.5,484.6 735.8,479.8 736.1,481.2 736.5,479.1 736.8,477.3 737.1,475.4 737.4,472.1 737.7,472.5 738.1,471.1 738.4,470.7 738.7,469.4 739.0,468.3 739.6,471.3 740.1,471.0 740.7,471.6 741.0,474.3 741.4,472.9 741.7,475.0 742.0,477.9 742.3,479.2 742.7,480.1 743.0,480.6 743.4,481.5 743.9,482.1 744.3,486.8 744.8,485.3 745.2,487.4 745.8,488.1 746.4,491.4 746.9,490.8 747.5,491.8 748.6,490.0 749.7,489.6 750.3,489.2 750.9,486.6 751.4,486.9 752.0,484.0 752.7,482.8 753.3,480.8 754.0,483.5 754.6,481.0 755.3,478.4 756.0,479.7 756.7,480.5 757.4,480.2 758.1,482.9 759.5,483.0 760.9,484.5 761.7,481.7 762.4,482.9 763.2,480.6 764.3,483.2 765.4,482.9 765.8,481.2 766.2,479.7 766.5,479.4 766.9,477.6 767.3,476.9 767.7,475.0 768.1,476.9 768.4,478.1 768.8,479.7 769.2,479.1 769.5,482.4 769.9,482.9 770.0,481.9 770.2,485.7 770.3,486.6 770.4,488.7 770.6,489.3 770.7,491.2 770.8,490.1 771.0,493.0 771.1,494.9 772.8,496.0 773.2,493.8 773.5,493.8 773.9,492.3 774.3,490.3 774.6,488.9 775.0,488.2 775.6,488.5 776.2,490.3 776.7,492.0 777.3,493.5 777.9,493.8 778.6,492.2 779.2,489.8 779.9,488.7 780.5,489.2 781.2,487.0 782.6,485.2 784.0,485.9 786.8,485.9 787.4,486.6 788.0,485.4 788.5,490.2 789.1,490.4 790.0,491.2 791.0,491.1 791.9,492.7 794.1,492.7 794.7,493.5 795.2,495.5 795.8,495.8 796.4,497.1 797.3,498.4 798.3,499.3 799.2,500.5 799.8,500.2 800.3,500.7 800.9,505.0 801.4,505.0 801.6,505.6 801.9,508.8 802.1,510.1 802.4,509.5 802.6,510.6 802.9,512.0 803.1,514.0 804.5,515.3 805.9,512.9 806.3,511.6 806.7,509.9 807.0,509.9 807.4,506.5 807.8,505.6 808.2,505.0 808.5,502.9 808.8,502.1 809.0,499.3 809.3,499.4 809.4,497.2 809.6,496.7 809.8,494.0 809.9,493.8" stroke="#73292a"/>
<polyline points="810.4,493.8 810.8,496.0 811.1,498.3 811.5,498.3 828.4,498.3 828.4,496.6 828.4,496.2 828.4,492.9 828.4,492.9 828.4,490.2 828.4,490.2 828.4,488.6 828.4,488.1 828.4,485.9 828.8,486.9 829.3,487.7 829.7,489.1 830.2,489.6 830.6,492.7 831.7,495.6 832.9,492.9 834.0,496.0 835.1,495.7 836.3,496.1 837.4,494.9 838.8,494.2 840.2,493.8 840.5,491.0 840.7,491.7 841.0,491.4 841.3,490.0 841.5,485.7 841.8,485.9 843.2,485.2 844.7,484.2 845.8,484.6 846.9,486.1 848.0,482.6 848.7,483.8 849.4,485.1 850.1,487.6 850.8,487.0 851.4,486.9 851.9,489.4 852.5,489.1 853.0,492.1 853.6,493.8 854.5,491.9 855.5,491.0 856.4,490.4 856.9,490.0 857.3,488.5 857.8,486.9 858.2,484.8 858.7,483.7 859.6,481.9 860.6,480.0 861.5,480.3 862.4,481.5 863.4,482.5 864.3,482.6 864.8,483.2 865.4,483.7 866.0,484.9 866.5,487.0 867.1,488.8 867.6,490.6 868.2,491.4 868.8,491.5 869.9,490.7 871.1,491.6 872.2,492.7 873.7,491.3 875.2,492.0 875.7,495.0 876.2,495.2 876.7,494.6 877.2,497.1 877.5,499.0 877.8,500.1 878.1,501.3 878.3,502.8 878.6,502.9 878.9,504.0 879.2,506.4 879.4,505.7 879.6,505.9 879.8,500.8 880.0,499.3 880.2,500.1 880.4,496.4 880.6,493.4 880.8,494.6 881.0,494.9 881.2,493.6 881.4,491.9 881.6,488.7 881.8,488.1 882.6,489.7 883.4,490.1 884.1,491.2 884.9,493.7 885.7,494.6 886.5,494.3 887.3,497.7 888.0,498.3 888.8,499.5 889.6,499.8 890.6,499.4 891.6,497.1 892.6,499.4 893.6,495.9 894.5,499.3 895.3,497.4 896.2,498.5 896.6,497.1 896.9,495.3 897.3,494.3 897.7,494.2 898.1,493.5 898.4,490.0 898.8,489.4 899.4,487.1 900.1,485.3 900.8,485.3 901.4,484.1 902.2,482.6 903.0,482.1 903.7,481.2 904.5,478.1 905.3,478.9 906.6,477.5 908.0,478.6 909.3,477.6 910.6,477.1 911.9,477.7 913.2,478.9 913.7,475.7 914.2,477.4 914.8,475.5 915.3,473.3 915.8,472.4 916.1,472.0 916.4,471.5 916.8,470.2 917.1,466.7 917.4,465.7 917.8,464.9 918.1,464.4 918.4,461.9 918.9,458.3 919.4,459.4 920.0,456.1 920.5,457.9 921.0,455.3 921.5,453.6 922.0,453.2 922.5,450.6 923.0,449.5" stroke="#5a772c"/>
<polyline points="890.4,472.4 895.6,472.4" stroke="#342c44"/>
<polyline points="909.3,490.7 910.2,493.0 911.0,491.5 911.9,493.3 913.2,494.2 914.5,494.6 914.6,490.9 914.8,491.9 914.9,492.3 915.1,491.2 915.2,488.1 915.6,485.5 916.1,484.8 916.5,484.1 916.8,482.5 917.0,478.5 917.3,482.1 917.6,479.7 917.9,478.2 918.1,477.4 918.4,475.0 919.4,473.3 920.4,472.4 920.8,471.3 921.2,470.7 921.6,469.3 922.0,466.6 922.4,465.8 923.3,463.1 924.1,463.9 925.0,461.9 925.3,461.0 925.6,458.0 926.0,459.2 926.3,456.6 927.2,456.0 928.0,454.5 928.9,452.7 929.4,451.5 929.9,450.7 930.5,450.4 931.0,447.1 931.5,446.2 932.0,446.5 932.5,443.8 933.1,442.6 933.6,442.5 934.1,439.4 934.3,438.3 934.5,437.1 934.6,434.6 934.8,433.9 935.0,432.6 935.2,430.5 935.3,428.9 935.5,429.3 935.7,426.9 936.0,426.7 936.2,423.1 936.5,422.0 936.8,422.2 937.0,421.2 937.3,417.4 937.6,416.7 937.8,417.0 938.1,414.3 939.2,416.1 940.4,413.5 940.7,416.0 940.9,415.1 941.2,419.2 941.5,419.2 941.7,420.4 942.0,422.1 942.6,421.4 943.2,418.7 943.8,417.7 944.4,417.4 944.6,412.8 944.7,416.0 944.9,413.5 945.1,411.4 945.2,410.5 945.4,409.0 945.6,407.1 945.7,405.5 945.9,404.9 946.1,403.2 946.4,399.5 946.6,399.0 946.8,399.1 947.0,399.7 947.3,397.3 947.5,395.4 947.7,395.0 948.0,393.5 948.2,391.2 948.4,390.4 948.6,388.7 948.9,386.9 949.1,386.0 949.4,384.7 949.6,383.8 949.9,381.6 950.1,379.9 950.4,379.7 950.6,378.1 950.7,376.8 950.8,375.5 950.8,375.2 950.9,372.7 951.0,371.1 951.1,369.0 951.2,367.1 951.2,367.4 951.3,366.1 951.4,364.0 951.5,366.0 951.6,367.3 951.7,367.5 951.8,369.9 951.9,371.1 952.0,372.9 952.1,373.1 952.3,376.2 952.4,377.4 952.5,376.6 952.6,378.9 952.7,380.3 952.8,382.3 952.9,384.5 953.0,384.4 953.2,381.3 953.4,382.8 953.6,381.1 953.8,378.4 954.0,376.9 954.2,376.8 954.4,374.6 954.6,373.4 957.7,373.4 958.9,372.2 960.1,371.9 960.4,370.3 960.7,371.6 961.0,366.1 961.3,368.9 961.6,365.6 962.7,365.0 963.7,368.9 964.8,368.7 965.4,369.4 966.0,371.2 966.5,371.6 967.1,373.4 967.7,374.2 968.3,377.2 968.9,376.1 969.5,378.1 970.0,374.4 970.5,375.2 970.9,371.6 971.4,372.3 971.9,371.9 972.4,370.5 972.8,368.7 973.3,367.5 973.7,368.9 974.2,365.6 974.3,366.8 974.4,364.7 974.5,363.3 974.7,360.7 974.8,358.0 974.9,356.7 975.0,355.0 975.1,353.9 975.2,352.9 975.3,352.8 975.5,352.3 975.6,349.9 975.7,348.8 975.8,346.7 977.0,346.8 978.1,348.3 978.3,347.6 978.4,344.6 978.6,344.0 978.7,344.6 978.9,341.6 979.1,339.6 979.2,339.0 979.4,336.2 979.5,335.7 979.7,334.1 979.9,334.6 980.0,337.9 980.2,338.3 980.3,339.9 980.5,341.5 980.7,342.9 980.8,344.4 981.0,345.6 981.1,346.7 981.3,348.3 981.6,350.2 981.9,351.4 982.3,353.3 982.6,354.8 982.9,354.6 983.2,357.5 983.5,357.2 983.8,358.0 984.1,360.1 984.4,360.9 984.6,359.7 984.8,359.4 984.9,356.7 985.1,356.4 985.3,352.9 985.5,353.4 985.6,350.8 985.8,348.8 986.0,348.3 986.8,346.2 987.6,346.7 987.7,347.0 987.8,349.0 987.8,352.7 987.9,353.5 988.0,354.4 988.1,354.8 988.1,357.1 988.2,356.9 988.3,357.6 988.4,359.8 988.4,362.4 988.5,366.5 988.6,363.2 988.6,365.5 988.7,366.9 988.8,368.2 988.9,369.4 989.0,371.6 989.0,372.3 989.1,375.0 989.5,376.2 989.9,375.5 990.3,377.7 990.7,379.7 990.9,377.2 991.1,376.4 991.2,376.1 991.4,373.2 991.6,372.7 991.8,370.6 991.9,370.0 992.1,369.0 992.3,367.1 992.5,368.2 992.7,370.9 992.8,370.3 993.0,374.6 993.2,372.9 993.4,375.9 993.5,377.7 993.7,379.9 993.9,379.7 994.0,378.3 994.1,377.7 994.2,376.0 994.3,375.0 994.4,373.4 994.5,371.7 994.6,370.2 994.6,369.9 994.7,367.7 994.8,365.6 994.9,363.3 995.0,362.4 995.1,360.4 995.2,361.6 995.3,360.4 995.4,357.7 996.0,357.7 996.6,360.0 997.2,362.4 997.8,362.4 998.1,363.5 998.5,364.4 998.8,364.7 999.1,367.2 999.4,369.3 999.8,370.9 1000.1,371.9 1000.4,371.4 1000.7,369.6 1001.0,368.8 1001.3,368.1 1001.6,365.8 1001.9,363.8 1002.2,360.7 1002.5,360.9 1002.8,362.8 1003.2,364.1 1003.5,366.7 1003.9,364.9 1004.2,367.3 1004.6,366.8 1004.9,370.3 1005.2,371.9 1005.6,373.9 1005.9,373.2 1006.2,376.2 1006.5,376.5 1006.9,379.0 1007.2,379.7 1008.4,380.8 1009.6,381.3 1010.6,381.7 1011.7,381.6 1012.7,384.4 1013.3,384.7 1013.9,387.3 1014.5,388.7 1015.1,389.1 1015.6,389.7 1016.0,392.2 1016.5,394.8 1016.9,393.0 1017.4,395.4 1018.5,396.7 1019.5,397.8 1020.6,398.6 1021.2,398.7 1021.8,400.2 1022.3,404.3 1022.9,403.3 1023.4,402.5 1023.9,401.8 1024.3,398.5 1024.8,398.9 1025.3,397.0 1026.3,398.4 1027.4,399.9 1028.4,400.1" stroke="#4a3670"/>
<polyline points="962.4,430.0 963.0,429.6 963.7,428.9 964.3,425.4 965.0,424.0 965.6,423.7 966.1,422.8 966.6,423.0 967.2,420.2 967.7,417.2 968.2,416.3 968.7,415.8 968.9,417.2 969.1,419.7 969.2,420.0 969.4,421.0 969.6,422.6 969.8,424.4 969.9,424.8 970.1,427.0 970.3,428.4 970.5,427.3 970.8,427.4 971.0,424.1 971.2,423.8 971.5,420.3 971.7,420.9 971.9,418.7 972.1,416.6 972.4,415.7 972.6,414.3 972.9,414.0 973.3,411.3 973.6,411.4 974.0,410.6 974.3,409.4 974.7,408.0 975.0,404.9 975.2,402.2 975.5,402.6 975.7,400.1 975.9,400.5 976.1,398.2 976.4,397.0 976.6,395.4 977.4,394.9 978.1,392.7 978.9,392.3 979.2,391.1 979.4,388.9 979.7,390.6 980.0,386.6 980.2,385.8 980.5,384.4 980.7,383.9 980.9,385.6 981.0,387.7 981.2,390.9 981.4,392.3 981.6,393.1 981.7,393.5 981.9,397.6 982.1,397.0 982.9,397.5 983.6,400.1 983.7,397.8 983.9,397.8 984.0,394.8 984.2,394.7 984.3,394.1 984.5,391.5 984.6,390.6 984.8,388.8 984.9,386.6 985.1,382.4 985.2,384.4 985.6,381.9 986.0,382.1 986.4,379.1 986.8,379.7 987.0,380.6 987.1,382.8 987.3,385.4 987.4,383.9 987.6,386.3 987.8,388.5 987.9,390.2 988.1,389.6 988.2,394.5 988.4,393.9 988.5,394.5 988.6,398.0 988.7,398.1 988.9,400.2 989.0,403.0 989.1,403.4 989.2,404.2 989.3,404.4 989.4,406.2 989.6,406.9 989.7,412.0 989.8,409.6 989.9,412.7 990.0,408.6 990.1,411.8 990.2,410.0 990.3,406.8 990.4,406.8 990.5,403.6 990.6,402.5 990.7,402.3 990.8,400.8 990.9,398.5 991.0,399.4 991.1,397.0 991.2,395.0 991.3,392.2 991.4,392.3 991.5,390.7 991.7,391.8 991.8,393.5 992.0,395.9 992.1,395.8 992.3,398.1 992.5,400.1 992.6,401.1 992.8,404.6 992.9,401.6 993.1,404.9 993.2,403.4 993.4,400.8 993.5,400.5 993.6,401.9 993.7,395.9 993.9,396.0 994.0,395.6 994.1,393.5 994.2,393.0 994.4,388.8 994.5,390.1 994.6,387.6 995.2,387.8 995.8,388.7 996.4,391.8 997.0,392.3 997.6,394.0 998.2,393.9 998.8,395.0 999.4,397.0 999.8,395.5 1000.2,394.4 1000.5,392.9 1000.9,390.7 1001.3,387.9 1001.7,389.1 1002.3,391.8 1002.9,391.7 1003.5,391.4 1004.1,393.9 1004.9,393.2 1005.6,395.2 1006.4,397.0 1007.5,397.1 1008.5,395.8 1009.6,398.6 1012.7,398.6 1013.1,401.5 1013.5,401.7 1013.9,402.2 1014.3,404.2 1014.7,405.4 1015.1,406.4 1015.7,408.8 1016.2,408.9 1016.8,411.3 1017.4,411.1 1018.0,411.6 1018.7,408.3 1019.3,406.9 1020.0,405.2 1020.6,404.9 1020.9,406.0 1021.3,406.8 1021.6,409.0 1021.9,410.6 1022.2,412.2 1022.6,411.7 1022.9,414.3 1023.4,414.2 1023.9,411.5 1024.3,410.4 1024.8,408.7 1025.3,408.0 1026.1,404.8 1026.8,406.2 1027.6,404.9 1030.0,404.9 1030.2,401.6 1030.5,403.4 1030.7,400.9 1030.9,401.2 1031.1,398.8 1031.4,397.5 1031.6,395.4 1031.8,395.5 1031.9,392.6 1032.1,392.9 1032.3,389.7 1032.4,388.7 1032.6,386.3 1032.8,386.2 1032.9,384.9 1033.1,382.8 1033.4,381.0 1033.6,378.8 1033.9,378.9 1034.2,378.1 1034.4,376.1 1034.7,375.0 1035.1,372.6 1035.5,371.6 1035.9,370.8 1036.3,366.9 1036.7,367.8 1037.1,367.1 1037.9,369.8 1038.6,367.8 1039.4,370.3 1039.6,368.7 1039.9,369.5 1040.1,367.1 1040.3,365.9 1040.5,363.4 1040.8,360.8 1041.0,360.9 1041.1,362.7 1041.2,358.4 1041.3,357.0 1041.4,357.1 1041.4,354.8 1041.5,352.6 1041.6,349.9 1041.7,349.5 1041.8,348.3 1041.9,346.7 1041.9,344.7 1042.0,343.1 1042.1,341.5 1042.2,341.0 1042.2,339.1 1042.3,338.8 1042.4,338.0 1042.5,335.8 1042.5,334.1 1042.6,332.6 1042.7,332.9 1042.8,330.6 1042.9,326.9 1043.0,326.3 1043.1,325.9 1043.2,323.4 1043.3,323.8 1043.4,321.6" stroke="#216a7b"/>
</g>
<line x1="1028.5" y1="310.3" x2="1042.2" y2="324.1" stroke="#b3b3b3" stroke-width="1.4"/>
<text transform="translate(1005.8,300.8) scale(1,1.1)" font-family="Liberation Sans" font-size="26.7" fill="#404040">561</text>
<text transform="translate(76.2,712.2) scale(1,1.11)" font-family="Liberation Sans" font-weight="bold" font-size="20.5" fill="#0d0d0d" textLength="458" lengthAdjust="spacingAndGlyphs">Fuente: AZ Group en base al Mercado Local.</text>
<g id="logo">
<defs><clipPath id="hexclip"><path d="M733,655.3 L779.4,681 L779.4,736.2 L733,762.3 L686.7,736.2 L686.7,681 Z"/></clipPath></defs>
<g clip-path="url(#hexclip)">
<rect x="685" y="654" width="97" height="110" fill="#17a0a6"/>
<path d="M733,655.3 L779.4,681.3 L721,706.2 L687.5,681.3 Z" fill="#1466b1"/>
<path d="M720.5,706.3 L779.4,682 L779.4,740 L752,752 L749.5,752 C744,731 731,716 720.5,706.3 Z" fill="#19aa6c"/>
<path d="M779.4,722 L779.4,737 L754,749.5 C766,741 775,731 779.4,722 Z" fill="#1466b1"/>
<g fill="none" stroke="#e2f2f1" stroke-width="2.3" stroke-linecap="round">
<path d="M687.5,681.5 L721,706"/>
<path d="M721,706 L779.5,682"/>
<path d="M720.5,706.3 C731,716 744,731 749.5,753"/>
<path d="M686,711.8 Q707,706.5 727.5,715"/>
<path d="M750.5,749 C752,725 760,703 779,683"/>
<path d="M752,750 C765,741 775,730 780,718.5" stroke-width="2.6"/>
<path d="M745,757 L758,749" stroke-width="4"/>
</g>
</g>
<path d="M733,655.3 L779.4,681 L779.4,736.2 L733,762.3 L686.7,736.2 L686.7,681 Z" fill="none" stroke="#eef5f5" stroke-width="0.8"/>
<path fill-rule="evenodd" fill="#6f7072" d="M813,682 L823.2,682 L845.2,734.3 L834,734.3 L829,722.3 L807.2,722.3 L802.2,734.3 L790.9,734.3 Z M818,696 L825.3,713.2 L810.9,713.2 Z"/>
<path fill="#6f7072" d="M849,682 L892,682 L892,691.7 L864.1,725 L892,725 L892,734.5 L848.5,734.5 L848.5,725 L876.4,691.7 L849,691.7 Z"/>
<text x="899.6" y="722.4" font-family="Liberation Sans" font-size="42.5" fill="#737476" stroke="#e8e5e4" stroke-width="0.7" textLength="119.5" lengthAdjust="spacingAndGlyphs">Group</text>
</g>

</svg>
</body></html>
